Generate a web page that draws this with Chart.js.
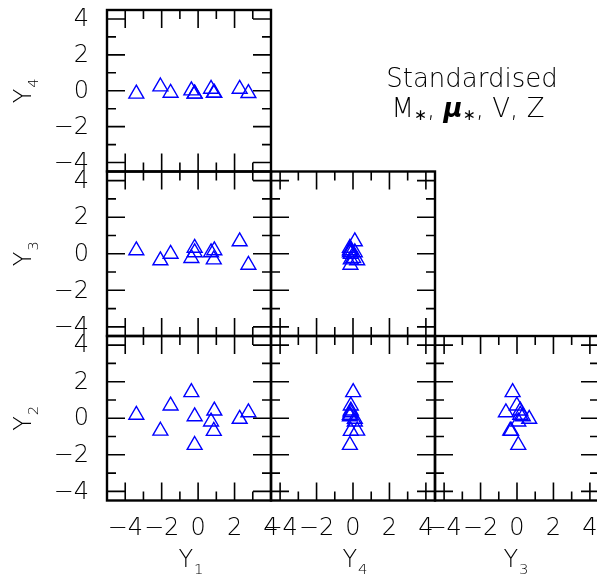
<!DOCTYPE html>
<html>
<head>
<meta charset="utf-8">
<script src="https://cdn.jsdelivr.net/npm/chart.js@4.4.1/dist/chart.umd.min.js"></script>
<style>
  html, body { margin: 0; padding: 0; background: #ffffff; }
  #wrap { position: relative; width: 597px; height: 576px; overflow: hidden; background: #ffffff; }
  #wrap canvas { position: absolute; left: 0; top: 0; }
</style>
</head>
<body>
<div id="wrap"></div>
<script>
// Standardised variables, one entry per object
const Y1 = [-3.39, -2.07, -1.51, -0.37, -0.19, -0.19, 0.89, 0.71, 0.86, 2.28, 2.76];
const Y2 = [0.18, -0.69, 0.69, 1.42, 0.10, -1.47, 0.41, -0.19, -0.70, -0.04, 0.32];
const Y3 = [0.18, -0.37, -0.01, -0.24, 0.32, 0.07, 0.18, 0.07, -0.32, 0.67, -0.61];
const Y4 = [-0.17, 0.23, -0.12, 0.01, -0.17, -0.17, -0.12, 0.10, -0.12, 0.10, -0.14];

const variables = { Y1, Y2, Y3, Y4 };
const subscripts = { Y1: '1', Y2: '2', Y3: '3', Y4: '4' };

// axis limits per variable
const limits = {
  Y1: [-5, 4],
  Y2: [-4.5, 4.5],
  Y3: [-4.5, 4.5],
  Y4: [-4.5, 4.5]
};
const tickLabels = [-4, -2, 0, 2, 4];

// lower-triangle layout: column variables along x, row variables along y
const colVars = ['Y1', 'Y4', 'Y3'];
const rowVars = ['Y4', 'Y3', 'Y2'];
const panels = [
  { col: 0, row: 0 },
  { col: 0, row: 1 }, { col: 1, row: 1 },
  { col: 0, row: 2 }, { col: 1, row: 2 }, { col: 2, row: 2 }
];

// page geometry
const colEdges = [107, 271, 435, 599];
const rowEdges = [7, 171.5, 336, 500.5];
const CW = 620, CH = 600;
const FONT = "'DejaVu Sans', sans-serif";
const TEXT_SIZE = 24;
const CAPTION_SIZE = 26;
const INK = '#000000';
const MARK = '#0000ff';

function fmt(v) { return v < 0 ? '\u2212' + Math.abs(v) : String(v); }

function drawSubText(ctx, main, sub, x0, baseY, size) {
  ctx.font = `200 ${size}px ${FONT}`;
  const wMain = ctx.measureText(main).width;
  ctx.fillText(main, x0, baseY);
  ctx.font = `200 ${size * 0.62}px ${FONT}`;
  ctx.fillText(sub, x0 + wMain + 1, baseY + size * 0.28);
}
function subTextWidth(ctx, main, sub, size) {
  ctx.font = `200 ${size}px ${FONT}`;
  const a = ctx.measureText(main).width;
  ctx.font = `200 ${size * 0.62}px ${FONT}`;
  return a + 1 + ctx.measureText(sub).width;
}

const framePlugin = {
  id: 'frame',
  afterDatasetsDraw(chart, args, opts) {
    const ctx = chart.ctx;
    const { left, right, top, bottom } = chart.chartArea;
    const xs = chart.scales.x, ys = chart.scales.y;
    ctx.save();
    ctx.strokeStyle = INK;
    ctx.lineCap = 'butt';
    // inward ticks on all four sides
    ctx.lineWidth = 1.6;
    ctx.beginPath();
    for (let v = Math.ceil(xs.min); v <= Math.floor(xs.max); v++) {
      const len = v % 2 === 0 ? 18 : 9;
      const px = xs.getPixelForValue(v);
      ctx.moveTo(px, bottom); ctx.lineTo(px, bottom - len);
      ctx.moveTo(px, top); ctx.lineTo(px, top + len);
    }
    for (let v = Math.ceil(ys.min); v <= Math.floor(ys.max); v++) {
      const len = v % 2 === 0 ? 18 : 9;
      const py = ys.getPixelForValue(v);
      ctx.moveTo(left, py); ctx.lineTo(left + len, py);
      ctx.moveTo(right, py); ctx.lineTo(right - len, py);
    }
    ctx.stroke();
    // panel frame
    ctx.lineWidth = 2.4;
    ctx.strokeRect(left, top, right - left, bottom - top);

    ctx.fillStyle = INK;
    // y tick labels on the left column
    if (opts.col === 0) {
      ctx.font = `200 ${TEXT_SIZE}px ${FONT}`;
      ctx.textAlign = 'right';
      ctx.textBaseline = 'middle';
      tickLabels.forEach(v => ctx.fillText(fmt(v), 89, ys.getPixelForValue(v) + 1));
      // rotated y title
      const cy = (top + bottom) / 2;
      ctx.save();
      ctx.translate(0, cy);
      ctx.rotate(-Math.PI / 2);
      ctx.textAlign = 'left';
      ctx.textBaseline = 'alphabetic';
      const w = subTextWidth(ctx, 'Y', opts.ySub, TEXT_SIZE);
      drawSubText(ctx, 'Y', opts.ySub, -w / 2, 31, TEXT_SIZE);
      ctx.restore();
    }
    // x tick labels and title on the bottom row
    if (opts.row === 2) {
      ctx.font = `200 ${TEXT_SIZE}px ${FONT}`;
      ctx.textAlign = 'center';
      ctx.textBaseline = 'alphabetic';
      tickLabels.forEach(v => ctx.fillText(fmt(v), xs.getPixelForValue(v), 535));
      ctx.textAlign = 'left';
      const cx = (left + Math.min(right, 597)) / 2 + (opts.col === 2 ? 0 : 2);
      const w = subTextWidth(ctx, 'Y', opts.xSub, TEXT_SIZE);
      drawSubText(ctx, 'Y', opts.xSub, cx - w / 2, 567, TEXT_SIZE);
    }
    // caption in the empty upper-right area
    if (opts.caption) {
      ctx.textAlign = 'center';
      ctx.textBaseline = 'alphabetic';
      ctx.font = `200 ${CAPTION_SIZE}px ${FONT}`;
      ctx.fillText('Standardised', 472, 87);
      // second line: M*, mu*, V, Z
      const segs = [
        { t: 'M', f: `200 ${CAPTION_SIZE}px ${FONT}`, dy: 0 },
        { t: '\u2217', f: `${CAPTION_SIZE * 0.6}px ${FONT}`, dy: 3 },
        { t: ', ', f: `200 ${CAPTION_SIZE}px ${FONT}`, dy: 0 },
        { t: '\u03bc', f: `italic bold ${CAPTION_SIZE}px ${FONT}`, dy: 0 },
        { t: '\u2217', f: `${CAPTION_SIZE * 0.6}px ${FONT}`, dy: 3 },
        { t: ', V, Z', f: `200 ${CAPTION_SIZE}px ${FONT}`, dy: 0 }
      ];
      let total = 0;
      segs.forEach(s => { ctx.font = s.f; s.w = ctx.measureText(s.t).width; total += s.w; });
      let x = 468 - total / 2;
      ctx.textAlign = 'left';
      segs.forEach(s => { ctx.font = s.f; ctx.fillText(s.t, x, 117 + s.dy); x += s.w; });
    }
    ctx.restore();
  }
};

const wrap = document.getElementById('wrap');
panels.forEach((p, i) => {
  const xv = colVars[p.col], yv = rowVars[p.row];
  const canvas = document.createElement('canvas');
  canvas.width = CW; canvas.height = CH;
  canvas.style.width = CW + 'px'; canvas.style.height = CH + 'px';
  wrap.appendChild(canvas);
  const points = variables[xv].map((v, k) => ({ x: v, y: variables[yv][k] }));
  new Chart(canvas, {
    type: 'scatter',
    data: {
      datasets: [{
        data: points,
        pointStyle: 'triangle',
        pointRadius: 8.6,
        pointBorderWidth: 1.4,
        pointBorderColor: MARK,
        pointBackgroundColor: 'rgba(0,0,0,0)',
        showLine: false
      }]
    },
    options: {
      responsive: false,
      animation: false,
      events: [],
      devicePixelRatio: 1,
      layout: {
        padding: {
          left: colEdges[p.col],
          right: CW - colEdges[p.col + 1],
          top: rowEdges[p.row],
          bottom: CH - rowEdges[p.row + 1]
        }
      },
      plugins: {
        legend: { display: false },
        tooltip: { enabled: false },
        frame: { col: p.col, row: p.row, xSub: subscripts[xv], ySub: subscripts[yv], caption: i === 0 }
      },
      scales: {
        x: { type: 'linear', min: limits[xv][0], max: limits[xv][1], display: false },
        y: { type: 'linear', min: limits[yv][0], max: limits[yv][1], display: false }
      }
    },
    plugins: [framePlugin]
  });
});
</script>
</body>
</html>
